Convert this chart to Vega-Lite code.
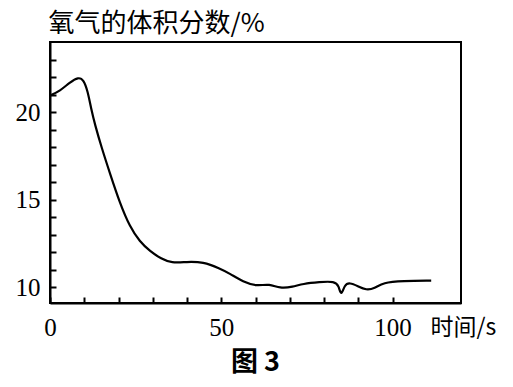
{
  "$schema": "https://vega.github.io/schema/vega-lite/v6.json",
  "width": 411,
  "height": 261,
  "autosize": "none",
  "padding": {"left": 50, "top": 42, "right": 52, "bottom": 84},
  "background": "white",
  "config": {"view": {"stroke": "black", "strokeWidth": 2}},
  "title": {
    "text": "图 3",
    "orient": "bottom",
    "anchor": "middle",
    "font": "Noto Sans CJK SC",
    "fontSize": 27,
    "fontWeight": "bold",
    "color": "black",
    "offset": 10
  },
  "data": {
    "values": [
      {"t": 0, "o": 20.95},
      {"t": 2.9, "o": 21.2},
      {"t": 5.8, "o": 21.7},
      {"t": 8.3, "o": 22.0},
      {"t": 9.8, "o": 21.85},
      {"t": 11.0, "o": 21.2},
      {"t": 12.0, "o": 20.2},
      {"t": 13.1, "o": 19.3},
      {"t": 15.1, "o": 17.95},
      {"t": 17.5, "o": 16.5},
      {"t": 20.4, "o": 14.8},
      {"t": 23.3, "o": 13.45},
      {"t": 26.2, "o": 12.6},
      {"t": 29.2, "o": 12.05},
      {"t": 32.5, "o": 11.62},
      {"t": 35.5, "o": 11.38},
      {"t": 39.9, "o": 11.45},
      {"t": 44.7, "o": 11.45},
      {"t": 49.6, "o": 11.07},
      {"t": 52.5, "o": 10.78},
      {"t": 56.4, "o": 10.3},
      {"t": 60.3, "o": 10.06},
      {"t": 64.1, "o": 10.2},
      {"t": 67.1, "o": 9.93},
      {"t": 70.9, "o": 10.02},
      {"t": 73.8, "o": 10.2},
      {"t": 78.7, "o": 10.3},
      {"t": 83.1, "o": 10.34},
      {"t": 84.3, "o": 10.1},
      {"t": 85.0, "o": 9.45},
      {"t": 86.0, "o": 10.15},
      {"t": 87.5, "o": 10.27},
      {"t": 89.9, "o": 10.06},
      {"t": 92.3, "o": 9.83},
      {"t": 94.8, "o": 9.93},
      {"t": 97.2, "o": 10.27},
      {"t": 103, "o": 10.36},
      {"t": 111.3, "o": 10.38}
    ]
  },
  "mark": {"type": "line", "color": "black", "strokeWidth": 2.2, "interpolate": "basis"},
  "encoding": {
    "x": {
      "field": "t",
      "type": "quantitative",
      "scale": {"domain": [0, 120], "nice": false, "zero": false},
      "axis": {
        "values": [0, 10, 20, 30, 40, 50, 60, 70, 80, 90, 100],
        "labelExpr": "datum.value % 50 == 0 ? datum.label : ''",
        "grid": false,
        "zindex": 1,
        "domainColor": "black",
        "domainWidth": 2,
        "tickColor": "black",
        "tickWidth": 2,
        "tickSize": -6,
        "labelPadding": 18,
        "labelFont": "Times New Roman, Liberation Serif, serif",
        "labelFontSize": 25,
        "labelFlush": false,
        "title": "时间/s",
        "titleFont": "Noto Sans CJK SC",
        "titleFontSize": 23,
        "titleFontWeight": "normal",
        "titleColor": "black",
        "titleX": 380,
        "titleY": 24,
        "titleAlign": "left",
        "titleBaseline": "middle",
        "encode": {
          "ticks": {"update": {"stroke": {"value": "black"}, "strokeWidth": {"value": 2}}},
          "labels": {"update": {"font": {"value": "Times New Roman, Liberation Serif, serif"}, "fill": {"value": "black"}}}
        }
      }
    },
    "y": {
      "field": "o",
      "type": "quantitative",
      "scale": {"domain": [9.1, 24], "nice": false, "zero": false},
      "axis": {
        "values": [10, 11, 12, 13, 14, 15, 16, 17, 18, 19, 20, 21, 22, 23],
        "labelExpr": "datum.value % 5 == 0 ? datum.label : ''",
        "grid": false,
        "zindex": 1,
        "domainColor": "black",
        "domainWidth": 2,
        "tickColor": "black",
        "tickWidth": 2,
        "tickSize": -6,
        "labelPadding": 16,
        "labelFont": "Times New Roman, Liberation Serif, serif",
        "labelFontSize": 25,
        "title": "氧气的体积分数/%",
        "titleFont": "Noto Sans CJK SC",
        "titleFontSize": 26,
        "titleFontWeight": "normal",
        "titleColor": "black",
        "titleAngle": 0,
        "titleX": -2,
        "titleY": -19,
        "titleAlign": "left",
        "titleBaseline": "middle",
        "encode": {
          "ticks": {"update": {"stroke": {"value": "black"}, "strokeWidth": {"value": 2}}},
          "labels": {"update": {"font": {"value": "Times New Roman, Liberation Serif, serif"}, "fill": {"value": "black"}}}
        }
      }
    }
  }
}
